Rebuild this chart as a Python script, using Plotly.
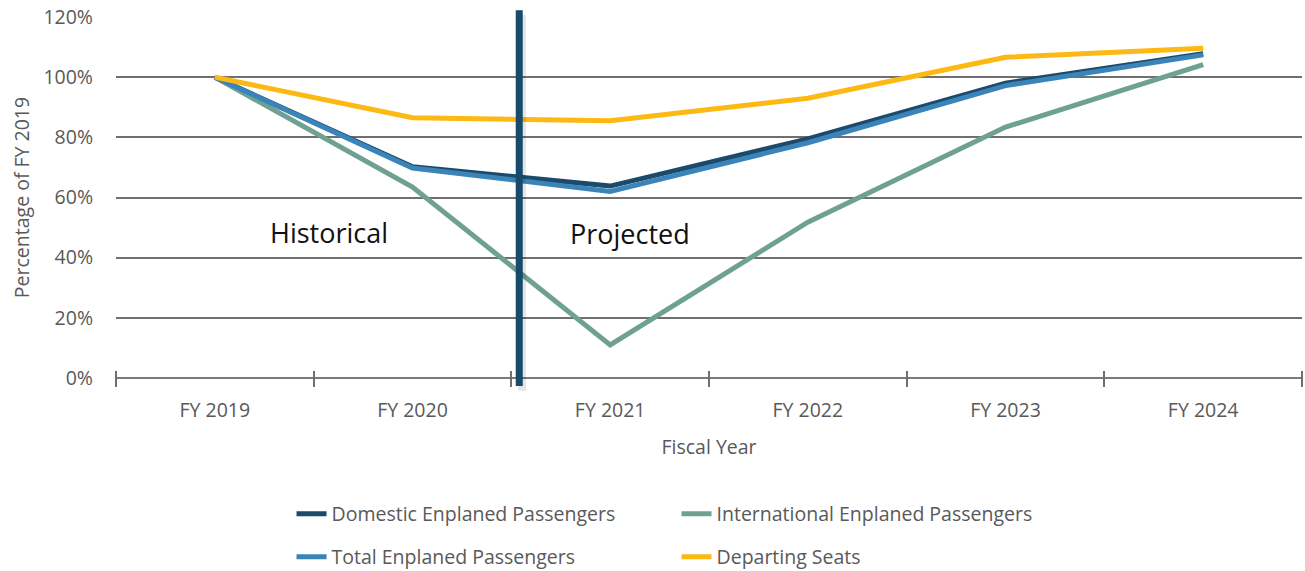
import plotly.graph_objects as go

# Passenger activity relative to FY 2019 (percent)
fiscal_years = ["FY 2019", "FY 2020", "FY 2021", "FY 2022", "FY 2023", "FY 2024"]
domestic = [100, 70.2, 63.8, 79.5, 98.0, 107.8]
international = [100, 63.5, 11.0, 51.8, 83.4, 104.2]
total = [100, 69.8, 62.0, 78.2, 97.2, 107.4]
departing_seats = [100, 86.5, 85.5, 93.0, 106.6, 109.6]
y_ticks = [0, 20, 40, 60, 80, 100, 120]
y_tick_labels = [f"{v}%" for v in y_ticks]

FONT = "Open Sans"
GREY = "#595959"
FS = 19.5

series = [
    ("Domestic Enplaned Passengers", domestic, "#1b4a6b", "legend"),
    ("International Enplaned Passengers", international, "#6fa192", "legend"),
    ("Total Enplaned Passengers", total, "#3a84b9", "legend2"),
    ("Departing Seats", departing_seats, "#fdb913", "legend2"),
]

fig = go.Figure()
for name, vals, color, leg in series:
    fig.add_trace(go.Scatter(
        x=fiscal_years, y=vals, name=name, mode="lines",
        line=dict(color=color, width=5), legend=leg,
    ))

# Divider between historical and projected years
split_x = 1.54
fig.add_shape(type="line", xref="x", yref="paper", x0=split_x + 0.014, x1=split_x + 0.014,
              y0=-0.035, y1=1.005, line=dict(color="rgba(0,0,0,0.10)", width=8))
fig.add_shape(type="line", xref="x", yref="paper", x0=split_x, x1=split_x,
              y0=-0.022, y1=1.019, line=dict(color="#174a6b", width=7))

fig.add_annotation(x=0.58, y=48.3, xref="x", yref="y", text="Historical",
                   showarrow=False, font=dict(family=FONT, size=27, color="#111111"))
fig.add_annotation(x=2.1, y=48.0, xref="x", yref="y", text="Projected",
                   showarrow=False, font=dict(family=FONT, size=27, color="#111111"))

legend_common = dict(orientation="h", xanchor="left", yanchor="middle",
                     font=dict(family=FONT, size=FS, color=GREY),
                     entrywidth=340, bgcolor="rgba(0,0,0,0)")

# Plot area is 361 px tall; the category axis sits 8 px above the zero line so
# its 16 px outside ticks straddle the baseline.
axis_lift = 8 / 361

fig.update_layout(
    width=1305, height=571,
    margin=dict(l=116, r=3, t=17, b=193, autoexpand=False),
    paper_bgcolor="white", plot_bgcolor="white",
    font=dict(family=FONT, color=GREY),
    xaxis=dict(
        type="category", categoryorder="array", categoryarray=fiscal_years,
        range=[-0.5, 5.5], tickson="boundaries", ticks="outside",
        ticklen=16, tickwidth=2, tickcolor="#6e6e6e",
        anchor="free", position=axis_lift, showline=False,
        showgrid=False, tickfont=dict(family=FONT, size=FS, color=GREY),
        ticklabelstandoff=26,
        title=dict(text="Fiscal Year", font=dict(family=FONT, size=FS, color=GREY), standoff=18),
    ),
    yaxis=dict(
        range=[0, 120], tickvals=y_ticks, ticktext=y_tick_labels,
        showgrid=True, gridcolor="#6f6f6f", gridwidth=1.5,
        zeroline=True, zerolinecolor="#7a7a7a", zerolinewidth=2, showline=False,
        tickfont=dict(family=FONT, size=FS, color=GREY), ticklabelstandoff=22,
        title=dict(text="Percentage of FY 2019", font=dict(family=FONT, size=FS, color=GREY), standoff=8),
    ),
    legend=dict(x=0.148, y=-0.377, **legend_common),
    legend2=dict(x=0.148, y=-0.496, **legend_common),
    showlegend=True,
)

fig.write_html("out.html")
